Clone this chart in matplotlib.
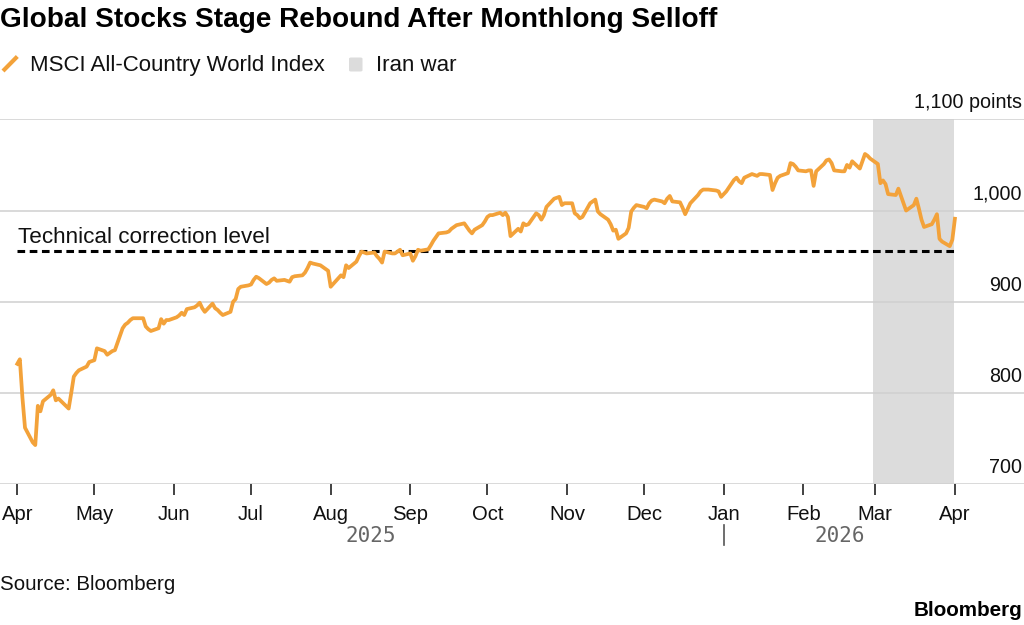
import pandas as pd
import matplotlib
matplotlib.use('Agg')
import matplotlib.pyplot as plt
from matplotlib.lines import Line2D
from matplotlib.patches import FancyBboxPatch

# MSCI All-Country World Index
dates = [
    '2025-04-01', '2025-04-02', '2025-04-03', '2025-04-04', '2025-04-07', '2025-04-08', '2025-04-09',
    '2025-04-10', '2025-04-11', '2025-04-14', '2025-04-15', '2025-04-16', '2025-04-17', '2025-04-21',
    '2025-04-22', '2025-04-23', '2025-04-24', '2025-04-25', '2025-04-28', '2025-04-29', '2025-04-30',
    '2025-05-01', '2025-05-02', '2025-05-05', '2025-05-06', '2025-05-07', '2025-05-08', '2025-05-09',
    '2025-05-12', '2025-05-13', '2025-05-14', '2025-05-15', '2025-05-16', '2025-05-19', '2025-05-20',
    '2025-05-21', '2025-05-22', '2025-05-23', '2025-05-26', '2025-05-27', '2025-05-28', '2025-05-29',
    '2025-05-30', '2025-06-02', '2025-06-03', '2025-06-04', '2025-06-05', '2025-06-06', '2025-06-09',
    '2025-06-10', '2025-06-11', '2025-06-12', '2025-06-13', '2025-06-16', '2025-06-17', '2025-06-18',
    '2025-06-19', '2025-06-20', '2025-06-23', '2025-06-24', '2025-06-25', '2025-06-26', '2025-06-27',
    '2025-06-30', '2025-07-01', '2025-07-02', '2025-07-03', '2025-07-04', '2025-07-07', '2025-07-08',
    '2025-07-09', '2025-07-10', '2025-07-11', '2025-07-14', '2025-07-15', '2025-07-16', '2025-07-17',
    '2025-07-18', '2025-07-21', '2025-07-22', '2025-07-23', '2025-07-24', '2025-07-25', '2025-07-28',
    '2025-07-29', '2025-07-30', '2025-07-31', '2025-08-01', '2025-08-04', '2025-08-05', '2025-08-06',
    '2025-08-07', '2025-08-08', '2025-08-11', '2025-08-12', '2025-08-13', '2025-08-14', '2025-08-15',
    '2025-08-18', '2025-08-19', '2025-08-20', '2025-08-21', '2025-08-22', '2025-08-25', '2025-08-26',
    '2025-08-27', '2025-08-28', '2025-08-29', '2025-09-01', '2025-09-02', '2025-09-03', '2025-09-04',
    '2025-09-05', '2025-09-08', '2025-09-09', '2025-09-10', '2025-09-11', '2025-09-12', '2025-09-15',
    '2025-09-16', '2025-09-17', '2025-09-18', '2025-09-19', '2025-09-22', '2025-09-23', '2025-09-24',
    '2025-09-25', '2025-09-26', '2025-09-29', '2025-09-30', '2025-10-01', '2025-10-02', '2025-10-03',
    '2025-10-06', '2025-10-07', '2025-10-08', '2025-10-09', '2025-10-10', '2025-10-13', '2025-10-14',
    '2025-10-15', '2025-10-16', '2025-10-17', '2025-10-20', '2025-10-21', '2025-10-22', '2025-10-23',
    '2025-10-24', '2025-10-27', '2025-10-28', '2025-10-29', '2025-10-30', '2025-10-31', '2025-11-03',
    '2025-11-04', '2025-11-05', '2025-11-06', '2025-11-07', '2025-11-10', '2025-11-11', '2025-11-12',
    '2025-11-13', '2025-11-14', '2025-11-17', '2025-11-18', '2025-11-19', '2025-11-20', '2025-11-21',
    '2025-11-24', '2025-11-25', '2025-11-26', '2025-11-27', '2025-11-28', '2025-12-01', '2025-12-02',
    '2025-12-03', '2025-12-04', '2025-12-05', '2025-12-08', '2025-12-09', '2025-12-10', '2025-12-11',
    '2025-12-12', '2025-12-15', '2025-12-16', '2025-12-17', '2025-12-18', '2025-12-19', '2025-12-22',
    '2025-12-23', '2025-12-24', '2025-12-26', '2025-12-29', '2025-12-30', '2025-12-31', '2026-01-02',
    '2026-01-05', '2026-01-06', '2026-01-07', '2026-01-08', '2026-01-09', '2026-01-12', '2026-01-13',
    '2026-01-14', '2026-01-15', '2026-01-16', '2026-01-19', '2026-01-20', '2026-01-21', '2026-01-22',
    '2026-01-23', '2026-01-26', '2026-01-27', '2026-01-28', '2026-01-29', '2026-01-30', '2026-02-02',
    '2026-02-03', '2026-02-04', '2026-02-05', '2026-02-06', '2026-02-09', '2026-02-10', '2026-02-11',
    '2026-02-12', '2026-02-13', '2026-02-16', '2026-02-17', '2026-02-18', '2026-02-19', '2026-02-20',
    '2026-02-23', '2026-02-24', '2026-02-25', '2026-02-26', '2026-02-27', '2026-03-02', '2026-03-03',
    '2026-03-04', '2026-03-05', '2026-03-06', '2026-03-09', '2026-03-10', '2026-03-11', '2026-03-12',
    '2026-03-13', '2026-03-16', '2026-03-17', '2026-03-18', '2026-03-19', '2026-03-20', '2026-03-23',
    '2026-03-24', '2026-03-25', '2026-03-26', '2026-03-27', '2026-03-30', '2026-03-31', '2026-04-01',
]
values = [
    832, 837, 795, 762, 746, 743, 786,
    780, 791, 798, 803, 792, 794, 783,
    800, 818, 822, 825, 829, 834, 835,
    836, 849, 846, 842, 844, 846, 847,
    871, 875, 877, 880, 882, 882, 882,
    873, 870, 868, 871, 881, 876, 880,
    880, 883, 885, 888, 885.5, 892, 894,
    896, 899, 893, 889, 898, 893, 891,
    888, 885.5, 889, 900, 903, 914, 916.5,
    918, 919, 924, 927.5, 926, 919.5, 921,
    924, 925.7, 923, 924, 923, 922, 927,
    928, 929, 932, 937, 943, 942, 940,
    938, 936, 934, 916.5, 926, 929, 927,
    940, 937, 944, 950, 955, 954, 953,
    954, 950, 947, 943, 955, 953, 953,
    955, 957, 951, 953, 945, 950, 957,
    956, 957.5, 962, 967, 971, 975, 976,
    977, 980, 982, 984, 986, 982, 978,
    975, 979, 984, 988, 993, 995, 995,
    997.6, 995, 997.6, 993, 972, 980, 977,
    986, 984, 985, 997, 995, 990, 995,
    1004, 1013, 1014, 1015, 1006, 1008, 1008,
    997, 995, 991.5, 993, 1008, 1010, 1012,
    999, 996, 990, 985, 978, 979, 969,
    975, 981, 999, 1003, 1006, 1004, 1002.5,
    1008, 1011, 1012, 1010, 1008, 1013, 1016,
    1010, 1009, 1003, 996, 1002, 1008, 1017,
    1021, 1023, 1023, 1022, 1021, 1015, 1021,
    1033.5, 1036, 1032, 1030, 1036, 1040, 1039,
    1038, 1040, 1040, 1039, 1022.5, 1030, 1036,
    1038, 1041, 1052, 1051, 1048, 1044, 1043,
    1044, 1044, 1027, 1043, 1051, 1055, 1056,
    1052, 1044, 1043, 1043, 1050, 1047, 1054,
    1046, 1054, 1062, 1060, 1057, 1051, 1030,
    1033, 1029, 1018, 1017, 1024, 1016, 1008,
    1000, 1006, 1013, 1002, 990, 982, 985,
    990, 996, 969, 966, 961, 968, 991,
]
correction_level = 955.6
war_start = '2026-02-28'
war_end = '2026-03-31 20:00'
month_ticks = pd.date_range('2025-04-01', '2026-04-01', freq='MS')
month_labels = [d.strftime('%b') for d in month_ticks]
y_ticks = [700, 800, 900, 1000, 1100]
y_labels = ['700', '800', '900', '1,000', '1,100 points']
years = ['2025', '2026']
year_mid = ['2025-08-16 12:00', '2026-02-15']
year_split = '2026-01-01'

W, H = 1024, 625
ORANGE = '#F3A23A'
GRID = '#CFCFCF'
SHADE = '#DCDCDC'
FONT = 'Liberation Sans'

plt.rcParams['font.family'] = FONT

x = pd.to_datetime(dates)
fig = plt.figure(figsize=(W / 100, H / 100), dpi=100)
ax = fig.add_axes([0, 1 - 484.3 / H, 1, (484.3 - 119.3) / H])

t0 = pd.Timestamp('2025-04-01')
ax.set_xlim(t0 - pd.Timedelta(days=6.73), t0 + pd.Timedelta(days=391.9))
ax.set_ylim(700, 1100)
for s in ax.spines.values():
    s.set_visible(False)

ax.axvspan(pd.Timestamp(war_start), pd.Timestamp(war_end), color=SHADE, lw=0, zorder=0)
for v in y_ticks:
    ax.axhline(v, color=GRID, lw=1.1, zorder=1)

ax.hlines(correction_level, x[0], x[-1], colors='black', lw=2.2,
          linestyles=(0, (2.5, 1.5)), zorder=2)
ax.plot(x, values, color=ORANGE, lw=2.7, solid_joinstyle='round', zorder=3)

ax.set_yticks([])
ax.set_xticks(month_ticks)
ax.set_xticklabels(month_labels)
ax.tick_params(axis='x', length=8, width=1.3, color='#333333', pad=7,
               labelsize=14.6, labelcolor='#111111')

for v, lab in zip(y_ticks, y_labels):
    ax.annotate(lab, xy=(1, v), xycoords=('axes fraction', 'data'),
                xytext=(-1.3, 8), textcoords='offset points',
                ha='right', va='baseline', fontsize=14.2, color='#111111')

ax.annotate('Technical correction level', xy=(18.3 / W, correction_level),
            xycoords=('axes fraction', 'data'), xytext=(0, 5.5),
            textcoords='offset points', ha='left', va='baseline',
            fontsize=16.2, color='#111111')

for yr, mid in zip(years, year_mid):
    ax.annotate(yr, xy=(pd.Timestamp(mid), 0), xycoords=('data', 'axes fraction'),
                xytext=(0, -(541.7 - 484.3) * 0.72), textcoords='offset points',
                ha='center', va='baseline', fontsize=15, color='#666666',
                family='DejaVu Sans Mono')
ax.plot([pd.Timestamp(year_split)] * 2, [-(525 - 484.3) / 365, -(545 - 484.3) / 365],
        transform=ax.get_xaxis_transform(), color='#555555', lw=1.2, clip_on=False)

# title, legend, footer
fig.text(0, 1 - 27 / H, 'Global Stocks Stage Rebound After Monthlong Selloff',
         fontsize=20.2, fontweight='bold', va='baseline', ha='left', color='black')

fig.add_artist(Line2D([3 / W, 17.3 / W], [1 - 71 / H, 1 - 56.5 / H],
                      color=ORANGE, lw=3, solid_capstyle='butt'))
fig.text(30 / W, 1 - 71 / H, 'MSCI All-Country World Index', fontsize=16,
         va='baseline', ha='left', color='#111111')
fig.add_artist(FancyBboxPatch((349 / W, 1 - 71.5 / H), 13.5 / W, 14 / H,
                              boxstyle='round,pad=0,rounding_size=0.002',
                              transform=fig.transFigure, color=SHADE, lw=0))
fig.text(376.5 / W, 1 - 71 / H, 'Iran war', fontsize=16,
         va='baseline', ha='left', color='#111111')

fig.text(0, 1 - 590 / H, 'Source: Bloomberg', fontsize=14.8,
         va='baseline', ha='left', color='#111111')
fig.text(1022 / W, 1 - 616.5 / H, 'Bloomberg', fontsize=14.9, fontweight='bold',
         va='baseline', ha='right', color='black')

fig.savefig('out.png', dpi=100)
